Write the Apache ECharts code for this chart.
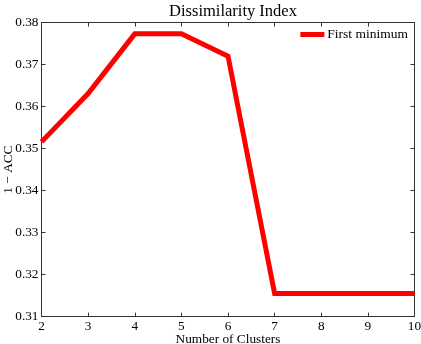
<!DOCTYPE html>
<html><head><meta charset="utf-8">
<script src="https://cdn.jsdelivr.net/npm/echarts@6/dist/echarts.min.js"></script>
<style>html,body{margin:0;padding:0;background:#fff}#c{width:421px;height:344px}</style>
</head><body><div id="c"></div>
<script>
var clusters = [2, 3, 4, 5, 6, 7, 8, 9, 10];
var firstMinimum = [0.3516, 0.3631, 0.3773, 0.3773, 0.3720, 0.3155, 0.3155, 0.3155, 0.3155];
var xTicks = [2, 3, 4, 5, 6, 7, 8, 9, 10];
var yTicks = [0.31, 0.32, 0.33, 0.34, 0.35, 0.36, 0.37, 0.38];

var font = 'Liberation Serif';
var axisCol = '#333';
var chart = echarts.init(document.getElementById('c'), null, {renderer: 'canvas'});
var baseAxis = {
  axisLine: {show: true, onZero: false, lineStyle: {color: axisCol, width: 1}},
  axisTick: {show: true, inside: true, length: 4, lineStyle: {color: axisCol}},
  splitLine: {show: false}
};
chart.setOption({
  animation: false,
  title: {text: 'Dissimilarity Index', left: 228, top: -2, textAlign: 'center',
    textStyle: {fontFamily: font, fontSize: 16.5, fontWeight: 'normal', color: '#000'}},
  legend: {right: 8, top: 22.5, itemWidth: 24, itemHeight: 5, itemGap: 4,
    textStyle: {fontFamily: font, fontSize: 13.5, color: '#000', padding: [0,0,0,-2]},
    data: [{name: 'First minimum', icon: 'rect'}]},
  grid: {left: 41.5, right: 6.5, top: 22.5, bottom: 27.3, containLabel: false, outerBoundsMode: 'none'},
  xAxis: [
    Object.assign({}, baseAxis, {type: 'value', min: 2, max: 10, interval: 1, position: 'bottom',
      name: 'Number of Clusters', nameLocation: 'middle', nameGap: 16, nameMoveOverlap: false,
      nameTextStyle: {fontFamily: font, fontSize: 13.3, color: '#000'},
      axisLabel: {fontFamily: font, fontSize: 13.3, color: '#000', margin: 3,
        formatter: function(v){ return xTicks.indexOf(v) >= 0 ? String(v) : ''; }}}),
    Object.assign({}, baseAxis, {type: 'value', min: 2, max: 10, interval: 1, position: 'top',
      axisLabel: {show: false}})
  ],
  yAxis: [
    Object.assign({}, baseAxis, {type: 'value', min: 0.31, max: 0.38, interval: 0.01, position: 'left',
      name: '1 \u2212 ACC', nameLocation: 'middle', nameGap: 26, nameMoveOverlap: false,
      nameTextStyle: {fontFamily: font, fontSize: 13.3, color: '#000'},
      axisLabel: {fontFamily: font, fontSize: 13.3, color: '#000', margin: 3,
        formatter: function(v){ return yTicks.indexOf(Math.round(v*100)/100) >= 0 ? v.toFixed(2) : ''; }}}),
    Object.assign({}, baseAxis, {type: 'value', min: 0.31, max: 0.38, interval: 0.01, position: 'right',
      axisLabel: {show: false}})
  ],
  series: [{
    name: 'First minimum', type: 'line', showSymbol: false, symbol: 'none',
    itemStyle: {color: '#ff0000'},
    lineStyle: {color: '#ff0000', width: 5, join: 'miter'},
    data: clusters.map(function(c, i){ return [c, firstMinimum[i]]; })
  }]
});
</script></body></html>
